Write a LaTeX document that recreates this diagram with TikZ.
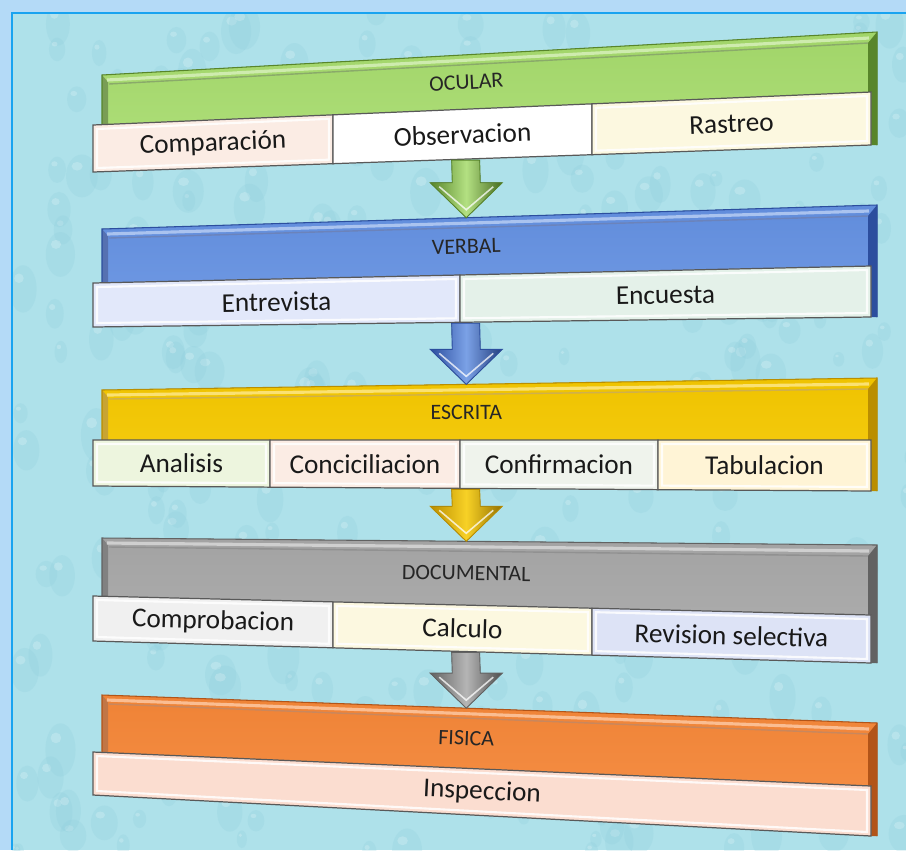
\documentclass[tikz,border=0pt]{standalone}
\usepackage{fontspec}
\setmainfont{Carlito}
\usetikzlibrary{calc}
\definecolor{frameband}{RGB}{180,218,247}
\definecolor{frameline}{RGB}{25,163,240}
\definecolor{water}{RGB}{174,225,234}
\definecolor{drop}{RGB}{140,204,219}
\definecolor{ocfill}{RGB}{166,219,108}
\definecolor{ocdark}{RGB}{88,133,42}
\definecolor{vbfill}{RGB}{100,145,226}
\definecolor{vbdark}{RGB}{44,78,158}
\definecolor{esfill}{RGB}{246,201,0}
\definecolor{esdark}{RGB}{186,142,0}
\definecolor{dcfill}{RGB}{168,168,168}
\definecolor{dcdark}{RGB}{98,98,98}
\definecolor{fsfill}{RGB}{246,135,56}
\definecolor{fsdark}{RGB}{178,84,24}
\definecolor{bxpeach}{RGB}{251,236,228}
\definecolor{bxcream}{RGB}{252,248,224}
\definecolor{bxlav}{RGB}{226,232,250}
\definecolor{bxmint}{RGB}{228,241,233}
\definecolor{bxgreen}{RGB}{237,245,222}
\definecolor{bxgray}{RGB}{239,243,236}
\definecolor{bxyellow}{RGB}{255,244,214}
\definecolor{bxlight}{RGB}{240,240,240}
\definecolor{bxblue}{RGB}{221,227,246}
\definecolor{bxsalmon}{RGB}{251,221,208}
\tikzset{
  title/.style={font=\fontsize{12.5}{14}\selectfont, text=black!85},
  item/.style={font=\fontsize{15.5}{17}\selectfont, text=black!90},
  boxline/.style={draw=gray!70!black, line width=0.7pt},
  bevel/.style={draw=white, line width=1.2pt, opacity=.85},
}
\begin{document}
\begin{tikzpicture}[x=0.02cm,y=-0.02cm]
\useasboundingbox (0,0) rectangle (906,850);
\fill[frameband] (0,0) rectangle (906,850);
\begin{scope}
\clip (12,13) rectangle (906,850);
\fill[water] (12,13) rectangle (906,850);
\pgfmathsetseed{21}
\foreach \i in {1,...,320}{
  \pgfmathsetmacro\px{12+900*rnd}
  \pgfmathsetmacro\py{13+840*rnd}
  \pgfmathsetmacro\rx{5+11*rnd}
  \pgfmathsetmacro\ry{\rx*(1.2+0.6*rnd)}
  \fill[drop,opacity=.22] (\px,\py) ellipse [x radius=\rx, y radius=\ry];
  \fill[white,opacity=.2] (\px-\rx*0.3,\py-\ry*0.45) ellipse [x radius=\rx*0.35, y radius=\ry*0.2];
}
\end{scope}
\draw[frameline, line width=1.3pt] (12,850) -- (12,13) -- (906,13);
% niveles
\foreach \n/\c/\d/\htl/\htr/\btl/\bbl/\btr/\bbr/\t in {
  ocular/ocfill/ocdark/75/32/125/172/92/145/OCULAR,
  verbal/vbfill/vbdark/229/205/283/327/266/317/VERBAL,
  escrita/esfill/esdark/390/378/440/486/440/491/ESCRITA,
  documental/dcfill/dcdark/538/545/596/641/615/663/DOCUMENTAL,
  fisica/fsfill/fsdark/695/723/752/795/786/836/FISICA}{
  \coordinate (\n-htl) at (102,\htl);
  \coordinate (\n-htr) at (877,\htr);
  \coordinate (\n-tl) at (93,\btl);
  \coordinate (\n-tr) at (871,\btr);
  \coordinate (\n-bl) at (93,\bbl);
  \coordinate (\n-br) at (871,\bbr);
  \coordinate (\n-ml) at ($(\n-tl)!.5!(\n-bl)$);
  \coordinate (\n-mr) at ($(\n-tr)!.5!(\n-br)$);
  \fill[top color=\c!97!black, bottom color=\c!92!white] (\n-htl) -- (\n-htr) -- (877,\bbr) -- (102,\btl) -- cycle;
  \fill[\d] (\n-htr) -- (877,\bbr) -- (868,\bbr) -- ($(\n-htr)+(-9,11)$) -- cycle;
  \fill[\d!80] (\n-htl) -- ($(\n-htl)+(6,7)$) -- (108,\btl) -- (102,\btl) -- cycle;
  \draw[white!45!\c, line width=1.8pt] ($(\n-htl)+(5,5)$) -- ($(\n-htr)+(-8,6)$);
  \draw[\d!70, line width=.8pt] ($(\n-htl)+(7,9)$) -- ($(\n-htr)+(-9,11)$);
  \draw[\d, line width=.6pt] (102,\btl) -- (\n-htl) -- (\n-htr) -- (877,\bbr);
  \path (102,{(\htl+\btl)/2}) -- node[title, sloped, pos=.47] (\n) {\t} (877,{(\htr+\btr)/2});
}
% casillas
\foreach \n/\a/\b/\f/\m/\t in {
  ocular/0/.3085/bxpeach/comparacion/Comparación,
  ocular/.3085/.6414/white/observacion/Observacion,
  ocular/.6414/1/bxcream/rastreo/Rastreo,
  verbal/0/.4717/bxlav/entrevista/Entrevista,
  verbal/.4717/1/bxmint/encuesta/Encuesta,
  escrita/0/.2275/bxgreen/analisis/Analisis,
  escrita/.2275/.4717/bxpeach/conciliacion/Conciciliacion,
  escrita/.4717/.7262/bxgray/confirmacion/Confirmacion,
  escrita/.7262/1/bxyellow/tabulacion/Tabulacion,
  documental/0/.3085/bxlight/comprobacion/Comprobacion,
  documental/.3085/.6414/bxcream/calculo/Calculo,
  documental/.6414/1/bxblue/revision/Revision selectiva,
  fisica/0/1/bxsalmon/inspeccion/Inspeccion}{
  \filldraw[fill=\f, boxline] ($(\n-tl)!\a!(\n-tr)$) -- ($(\n-tl)!\b!(\n-tr)$) -- ($(\n-bl)!\b!(\n-br)$) -- ($(\n-bl)!\a!(\n-br)$) -- cycle;
  \draw[bevel] ($(\n-tl)!\a!(\n-tr)+(4,4)$) -- ($(\n-tl)!\b!(\n-tr)+(-4,4)$) -- ($(\n-bl)!\b!(\n-br)+(-4,-4)$) -- ($(\n-bl)!\a!(\n-br)+(4,-4)$) -- cycle;
  \pgfmathsetmacro\mid{(\a+\b)/2}
  \path (\n-ml) -- node[item, sloped, pos=\mid] (\m) {\t} (\n-mr);
}
% flechas
\foreach \u/\v/\c/\d in {ocular/verbal/ocfill/ocdark, verbal/escrita/vbfill/vbdark, escrita/documental/esfill/esdark, documental/fisica/dcfill/dcdark}{
  \coordinate (\u-out) at ($(\u-bl)!.479!(\u-br)+(0,1)$);
  \coordinate (\v-in) at ($(\v-htl)!.47!(\v-htr)$);
  \filldraw[draw=\d, line width=.5pt, left color=\d, right color=\d!80!black, middle color=\c!85!white] ($(\u-out)+(-14,0)$) -- ($(\u-out)+(14,0)$) -- ($(\v-in)+(14,-35)$) -- ($(\v-in)+(36,-35)$) -- (\v-in) -- ($(\v-in)+(-36,-35)$) -- ($(\v-in)+(-14,-35)$) -- cycle;
  \draw[white, opacity=.75, line width=.9pt] ($(\v-in)+(-27,-31)$) -- ($(\v-in)+(0,-8)$) -- ($(\v-in)+(27,-31)$);
}
\end{tikzpicture}
\end{document}
